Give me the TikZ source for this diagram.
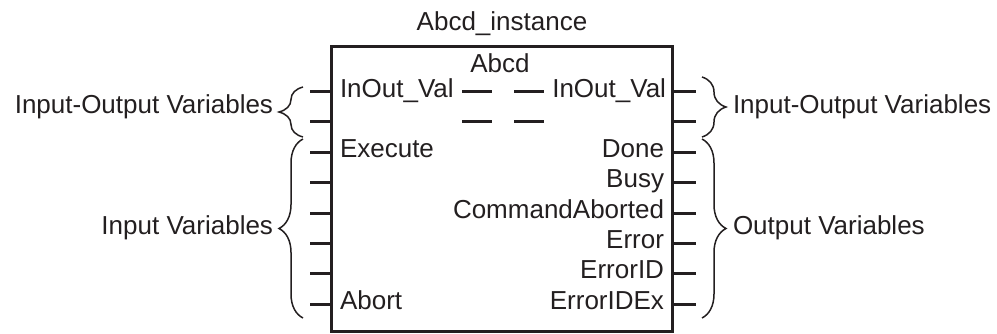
\documentclass[tikz,border=0pt]{standalone}
\usepackage{fontspec}
\setmainfont{Liberation Sans}
\usetikzlibrary{decorations.pathreplacing}
\definecolor{ink}{HTML}{231F20}
\begin{document}
\begin{tikzpicture}[x=0.5pt,y=-0.5pt,
  every node/.style={font=\fontsize{13}{15}\selectfont, text=ink, inner sep=0pt, outer sep=0pt},
  fbox/.style={draw=ink, line width=1.5pt, minimum width=170.25pt, minimum height=142.5pt},
  stub/.style={draw=ink, line width=1.5pt},
  bracecurl/.style={draw=ink, line width=0.75pt, decorate, decoration={brace, amplitude=12pt}},
  lbl/.style={anchor=base west},
  rlbl/.style={anchor=base east}]
\useasboundingbox (0,0) rectangle (997,333);
\node[fbox] (fb) at (501.75,189) {};
\node[anchor=base] (inst) at (502,30) {Abcd\_instance};
\node[anchor=base] (name) at (500,72) {Abcd};
% pins
\foreach \i/\y in {1/91,2/121.5,3/152,4/182.5,5/213,6/243,7/273.5,8/304}{
  \coordinate (L\i) at (fb.west |- 0,\y);
  \coordinate (R\i) at (fb.east |- 0,\y);
  \draw[stub] (L\i) -- ++(-21.5,0);
  \draw[stub] (R\i) -- ++(24,0);
}
% inner dashes
\coordinate (d1) at (462,91);
\coordinate (d2) at (514,91);
\coordinate (d3) at (462,121.5);
\coordinate (d4) at (514,121.5);
\draw[stub] (d1) -- ++(30,0);
\draw[stub] (d2) -- ++(30,0);
\draw[stub] (d3) -- ++(30,0);
\draw[stub] (d4) -- ++(30,0);
% labels inside
\node[lbl] (iv) at (340,97) {InOut\_Val};
\node[lbl] (ex) at (340,157) {Execute};
\node[lbl] (ab) at (340,309) {Abort};
\node[rlbl] (ov) at (666,97) {InOut\_Val};
\node[rlbl] (dn) at (664,157) {Done};
\node[rlbl] (bs) at (664,187.5) {Busy};
\node[rlbl] (ca) at (664,218) {CommandAborted};
\node[rlbl] (er) at (664,248) {Error};
\node[rlbl] (ei) at (664,278.5) {ErrorID};
\node[rlbl] (ex2) at (664,309) {ErrorIDEx};
% braces
\coordinate (b1a) at (303,137);
\coordinate (b1b) at (303,87);
\coordinate (b2a) at (303,318);
\coordinate (b2b) at (303,139);
\coordinate (b3a) at (702,77);
\coordinate (b3b) at (702,137);
\coordinate (b4a) at (702,139);
\coordinate (b4b) at (702,318);
\draw[bracecurl] (b1a) -- (b1b);
\draw[bracecurl] (b2a) -- (b2b);
\draw[bracecurl] (b3a) -- (b3b);
\draw[bracecurl] (b4a) -- (b4b);
% group labels
\node[anchor=east] (gio) at (273,107) {Input-Output Variables};
\node[anchor=east] (gin) at (273,228) {Input Variables};
\node[anchor=west] (gio2) at (733,107) {Input-Output Variables};
\node[anchor=west] (gout) at (733,228) {Output Variables};
\end{tikzpicture}
\end{document}
